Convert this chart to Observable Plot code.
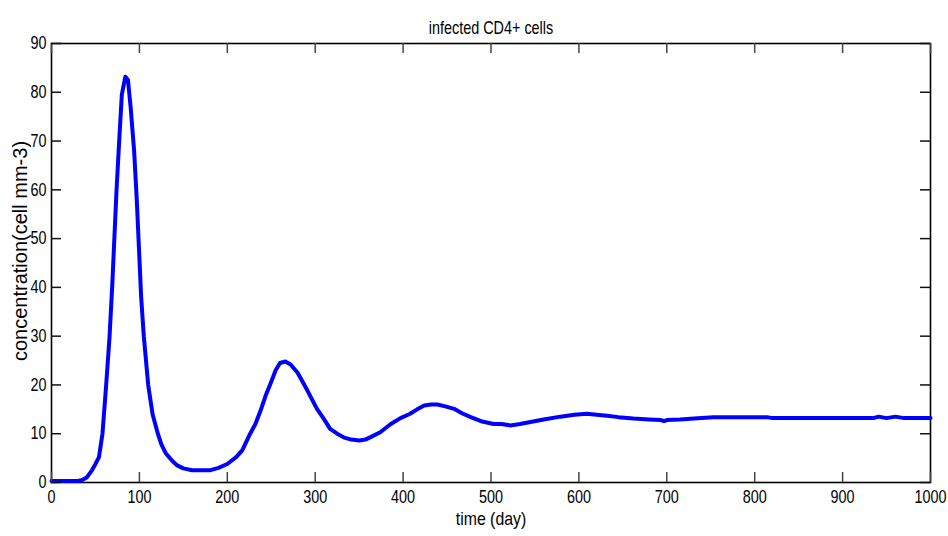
<!DOCTYPE html>
<html>
<head>
<meta charset="utf-8">
<script src="https://cdn.jsdelivr.net/npm/d3@7"></script>
<script src="https://cdn.jsdelivr.net/npm/@observablehq/plot@0.6"></script>
<style>
  html, body { margin: 0; padding: 0; background: #fff; }
  #chart svg { display: block; }
</style>
</head>
<body>
<div id="chart"></div>
<script>
const titleText = "infected CD4+ cells";
const xLabel = "time (day)";
const yLabel = "concentration(cell mm-3)";
const xTicks = [0, 100, 200, 300, 400, 500, 600, 700, 800, 900, 1000];
const yTicks = [0, 10, 20, 30, 40, 50, 60, 70, 80, 90];

const time = [0, 10, 20, 30, 35, 40, 46, 50, 54, 58, 62, 66, 69, 71.5, 74, 77, 80, 84, 87, 90, 94, 97, 100, 102, 105, 110, 115, 121, 125, 130, 137, 143, 150, 160, 170, 180, 190, 200, 210, 217, 226, 232, 238, 244, 249, 255, 260, 266, 272, 280, 291, 302, 310, 317, 325, 333, 341, 350, 357, 363, 374, 386, 397, 408, 416, 424, 432, 439, 448, 458, 467, 477, 490, 503, 512, 522, 533, 545, 560, 579, 595, 609, 620, 632, 645, 662, 680, 693, 697, 700, 715, 731, 753, 780, 814, 820, 850, 900, 935, 941, 950, 960, 970, 1000];
const infected = [0.3, 0.3, 0.3, 0.3, 0.5, 1.0, 2.5, 3.8, 5.2, 10, 19.5, 29.8, 40, 50, 60, 70, 79.5, 83.2, 82.5, 77, 68, 58, 46, 38, 30, 20, 14, 10, 7.8, 6, 4.5, 3.5, 2.9, 2.5, 2.5, 2.5, 3.0, 3.8, 5.2, 6.6, 10, 12, 14.8, 18, 20.2, 23, 24.5, 24.8, 24.2, 22.5, 18.9, 15.1, 13, 11, 10, 9.2, 8.8, 8.6, 8.8, 9.3, 10.3, 12, 13.2, 14.1, 15, 15.8, 16, 16, 15.6, 15.1, 14.2, 13.4, 12.5, 12, 12, 11.7, 12.0, 12.4, 12.9, 13.5, 13.9, 14.1, 13.9, 13.7, 13.4, 13.1, 12.9, 12.8, 12.6, 12.8, 12.9, 13.1, 13.4, 13.4, 13.4, 13.2, 13.2, 13.2, 13.2, 13.5, 13.2, 13.5, 13.2, 13.2];

const data = time.map((t, i) => ({t, v: infected[i]}));

const font = "'Liberation Sans', Arial, sans-serif";
const W = 948, H = 536, ML = 51, MR = 18, MT = 43, MB = 54;
const innerW = W - ML - MR, innerH = H - MT - MB, TICK = 10;

const chart = Plot.plot({
  width: W,
  height: H,
  marginLeft: ML,
  marginRight: MR,
  marginTop: MT,
  marginBottom: MB,
  style: {fontFamily: font, fontSize: "18px", background: "#fff"},
  x: {domain: [0, 1000], ticks: xTicks, tickFormat: d => String(d)},
  y: {domain: [0, 90], ticks: yTicks, tickFormat: d => String(d)},
  marks: [
    // tick labels
    Plot.axisX(xTicks, {anchor: "bottom", tickSize: 0, tickPadding: 8, label: null, fontSize: 18, fill: "#000", tickFormat: d => String(d)}),
    Plot.axisY(yTicks, {anchor: "left", tickSize: 0, tickPadding: 5, label: null, fontSize: 18, fill: "#000", tickFormat: d => String(d)}),
    Plot.frame({stroke: "#000", strokeWidth: 1.6}),
    Plot.line(data, {x: "t", y: "v", stroke: "#0000ff", strokeWidth: 4, strokeLinejoin: "round", strokeLinecap: "round"}),
    // inward ticks on all four sides
    Plot.ruleX(xTicks.slice(), {x: d => d, insetTop: innerH - TICK, stroke: "#444", strokeWidth: 1.5}),
    Plot.ruleX(xTicks.slice(), {x: d => d, insetBottom: innerH - TICK, stroke: "#444", strokeWidth: 1.5}),
    Plot.ruleY(yTicks.slice(), {y: d => d, insetRight: innerW - TICK, stroke: "#111", strokeWidth: 1.5}),
    Plot.ruleY(yTicks.slice(), {y: d => d, insetLeft: innerW - TICK, stroke: "#111", strokeWidth: 1.5}),
    // titles
    Plot.text([titleText], {frameAnchor: "top", dy: -22, text: d => d, fontSize: 18, fill: "#000"}),
    Plot.text([xLabel], {frameAnchor: "bottom", dy: 42, text: d => d, fontSize: 18, fill: "#000"}),
    Plot.text([yLabel], {frameAnchor: "left", dx: -31, dy: -12, rotate: -90, textAnchor: "middle", text: d => d, fontSize: 20, fill: "#000"})
  ]
});

// condense the narrow MATLAB-style font: scale horizontally around each text's anchor
function condense(el, k) {
  el.setAttribute("transform", (el.getAttribute("transform") || "") + ` scale(${k},1)`);
}
chart.querySelectorAll('[aria-label="x-axis tick label"] text, [aria-label="y-axis tick label"] text').forEach(el => condense(el, 0.8));
chart.querySelectorAll('[aria-label="text"] text').forEach(el => {
  if (el.textContent === titleText) condense(el, 0.8);
  else if (el.textContent === xLabel) condense(el, 0.88);
});

document.getElementById("chart").appendChild(chart);
</script>
</body>
</html>
